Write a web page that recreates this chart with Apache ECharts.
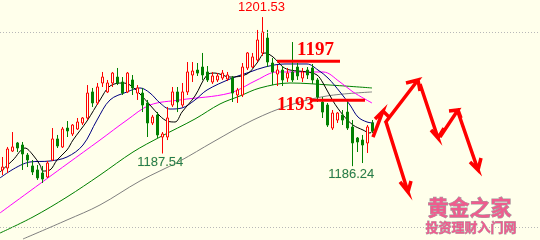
<!DOCTYPE html>
<html><head><meta charset="utf-8">
<script src="https://cdn.jsdelivr.net/npm/echarts/dist/echarts.min.js"></script>
<style>html,body{margin:0;padding:0;background:#ffffeb}#c{width:540px;height:240px}</style>
</head><body><div id="c"></div>
<script>
// candle values (index 0..74)
const opens = [1185.85,1186.05,1187.79,1188.62,1188.41,1187.38,1186.26,1185.85,1185.54,1185.13,
 1186.87,1189.03,1188.21,1190.15,1189.54,1190.05,1190.67,1191.18,1193.85,1192.72,
 1194.77,1193.85,1194.77,1195.38,1194.87,1193.85,1195.08,1193.74,1193.74,1192.72,
 1190.67,1191.49,1189.23,1189.23,1192.51,1193.85,1192.51,1193.85,1195.59,1196.10,
 1196.41,1195.90,1194.87,1195.08,1195.28,1195.18,1195.28,1193.54,1193.54,1196.31,
 1196.41,1197.13,1197.85,1199.38,1196.82,1195.69,1196.10,1195.28,1195.90,1196.41,
 1195.28,1196.10,1196.31,1195.08,1192.82,1192.51,1190.15,1190.97,1191.49,1191.79,
 1190.26,1189.13,1188.92,1188.62,1190.67];
const closes = [1186.15,1188.00,1188.21,1188.10,1187.49,1186.87,1185.64,1185.03,1184.92,1186.56,
 1189.03,1188.31,1190.05,1189.85,1190.46,1190.77,1191.18,1193.74,1192.72,1194.36,
 1195.38,1194.77,1195.79,1194.77,1193.74,1195.79,1194.26,1194.26,1192.51,1190.67,
 1191.28,1189.44,1189.54,1191.18,1193.85,1192.82,1193.85,1195.90,1196.00,1195.79,
 1195.59,1195.08,1195.49,1195.49,1195.79,1195.59,1193.74,1194.05,1196.41,1197.85,
 1197.44,1199.18,1200.00,1196.92,1195.90,1196.10,1195.08,1195.79,1195.08,1195.49,
 1195.90,1195.59,1195.08,1193.33,1191.79,1190.46,1191.69,1191.69,1190.97,1190.15,
 1188.62,1188.72,1188.41,1190.26,1189.85];
const lows = [1185.33,1185.54,1187.69,1187.69,1185.85,1186.15,1185.33,1184.82,1184.51,1185.03,
 1186.77,1188.10,1188.10,1189.23,1189.33,1189.95,1190.46,1190.97,1192.31,1192.51,
 1194.36,1193.74,1194.36,1194.56,1193.54,1193.74,1193.54,1193.03,1191.79,1189.23,
 1190.46,1189.13,1187.54,1188.92,1192.31,1191.79,1192.31,1193.54,1194.87,1195.49,
 1195.08,1194.87,1194.67,1194.87,1195.08,1194.97,1192.82,1192.72,1193.33,1196.10,
 1196.31,1196.92,1197.54,1196.41,1194.56,1194.46,1194.46,1194.87,1194.87,1195.08,
 1194.87,1195.18,1194.67,1192.82,1191.18,1190.26,1189.95,1190.67,1190.46,1189.95,
 1186.24,1187.69,1186.56,1187.59,1189.64];
const highs = [1187.18,1188.21,1189.74,1188.72,1188.72,1187.59,1186.87,1186.36,1186.26,1186.77,
 1190.15,1189.44,1190.26,1190.87,1190.56,1191.18,1191.28,1194.56,1194.26,1194.77,
 1195.90,1195.08,1195.90,1196.31,1195.38,1195.90,1195.59,1194.56,1194.26,1193.03,
 1191.49,1191.79,1189.74,1192.31,1194.36,1194.36,1194.77,1196.92,1196.92,1196.82,
 1197.85,1196.51,1195.90,1195.79,1196.10,1195.90,1195.49,1194.26,1196.82,1197.95,
 1197.85,1200.21,1201.53,1200.21,1197.33,1196.62,1196.51,1196.31,1198.97,1196.82,
 1196.31,1196.41,1196.72,1195.28,1193.33,1192.72,1192.00,1191.79,1192.00,1192.82,
 1190.97,1189.23,1189.44,1190.46,1190.97];
const slotCount = 108; // category slots incl. empty future area

// moving average lines, [position, price]
const maBlack = [[-0.5,1185.64],[2.1,1186.87],[4.5,1188.10],[6.1,1187.38],[7.5,1186.36],[8.1,1185.74],[9.5,1185.85],[10.9,1186.87],[12.9,1187.90],[14.1,1188.92],[16.9,1190.87],[19.5,1193.03],[21.5,1194.46],[24.1,1194.77],[25.5,1194.56],[27.5,1193.64],[29.5,1192.51],[31.5,1191.38],[32.9,1190.87],[34.5,1190.77],[35.9,1191.79],[38.5,1193.44],[40.9,1195.59],[42.5,1195.79],[45.5,1195.38],[48.9,1195.69],[50.9,1196.82],[52.5,1197.85],[54.1,1197.44],[56.1,1196.41],[57.5,1196.10],[60.9,1195.90],[62.9,1195.59],[64.1,1194.77],[66.1,1192.92],[68.1,1191.49],[70.1,1190.46],[72.1,1189.95],[73.5,1189.64],[74.1,1189.95]];
const maBlue = [[-0.5,1185.03],[5.5,1186.67],[9.5,1186.77],[12.9,1187.18],[16.1,1188.41],[18.9,1190.97],[21.5,1193.03],[24.9,1193.85],[27.5,1194.26],[29.5,1193.74],[31.5,1192.72],[33.5,1192.10],[35.9,1192.21],[38.5,1193.03],[40.9,1194.05],[45.5,1195.18],[49.5,1195.90],[52.5,1196.41],[56.5,1196.72],[60.9,1196.72],[63.1,1196.10],[65.1,1195.28],[67.5,1193.85],[69.5,1192.51],[71.1,1191.28],[72.9,1190.77],[74.3,1190.67]];
const maMagenta = [[-0.5,1181.44],[12.9,1186.46],[19.5,1188.92],[24.9,1190.97],[29.5,1192.51],[35.5,1193.03],[45.5,1193.74],[50.9,1195.08],[54.9,1195.90],[64.1,1195.90],[67.5,1194.87],[70.1,1193.85],[73.9,1192.72]];
const maGreen = [[-0.5,1179.38],[6.1,1181.03],[12.9,1183.08],[19.5,1185.33],[26.1,1187.69],[31.5,1189.23],[38.5,1191.08],[43.5,1192.62],[47.5,1193.44],[51.5,1194.26],[57.5,1194.77],[65.5,1194.56],[73.9,1194.26]];
const maGray = [[4.1,1178.77],[12.9,1180.72],[19.5,1182.26],[27.5,1184.72],[35.5,1186.77],[42.1,1188.72],[50.1,1190.97],[57.5,1192.51],[64.9,1193.44],[73.9,1193.85]];

// drawn levels and forecast arrows (start, tip, barb, tip, barb)
const levels = [{price:1197, from:54.9, to:67.5}, {price:1193, from:61.9, to:72.5}];
const arrows = [
 [[74.1,1189.23],[76.1,1191.90],[74.5,1191.08],[76.1,1191.90],[77.3,1191.28]],
 [[76.5,1190.67],[83.1,1195.08],[80.7,1194.77],[83.1,1195.08],[83.5,1193.95]],
 [[83.5,1194.67],[87.1,1189.13],[85.7,1189.95],[87.1,1189.13],[88.3,1190.15]],
 [[87.5,1189.23],[91.1,1192.00],[89.3,1191.90],[91.1,1192.00],[91.7,1191.18]],
 [[91.1,1191.79],[95.1,1185.85],[93.5,1186.67],[95.1,1185.85],[95.7,1187.08]],
 [[76.7,1190.77],[81.1,1183.59],[79.5,1184.62],[81.1,1183.59],[81.7,1184.72]]
];
const gridLevels = [1200, 1180];

const categories = [];
for (let i = 0; i < slotCount; i++) categories.push(String(i));
const candles = opens.map((o, i) => [o, closes[i], lows[i], highs[i]]);

const chart = echarts.init(document.getElementById('c'), null, {renderer: 'canvas'});
function ma(data, color) {
  return {type:'line', xAxisIndex:1, yAxisIndex:0, data, smooth:0.35, symbol:'none',
    lineStyle:{color, width:1}, silent:true, z:3};
}
const series = [
  {type:'line', xAxisIndex:1, data:[], symbol:'none',
   markLine:{silent:true, symbol:'none', label:{show:false},
     lineStyle:{color:'#b8b8b8', type:[1,2], width:1},
     data: gridLevels.map(v => ({yAxis:v}))}},
  ma(maGray, '#808080'),
  ma(maGreen, '#008000'),
  ma(maMagenta, '#ff00ff'),
  ma(maBlue, '#000080'),
  ma(maBlack, '#000000'),
  {type:'candlestick', xAxisIndex:0, yAxisIndex:0, data:candles, barWidth:3, z:4,
   itemStyle:{color:'#ffffeb', color0:'#008000', borderColor:'#ff0000', borderColor0:'#008000', borderWidth:1}}
];
levels.forEach(l => series.push({type:'line', xAxisIndex:1, data:[[l.from,l.price],[l.to,l.price]],
  symbol:'none', lineStyle:{color:'#ff0000', width:3}, z:6}));
arrows.forEach(a => series.push({type:'line', xAxisIndex:1, data:a, symbol:'none',
  lineStyle:{color:'#ff0000', width:3.5, join:'miter'}, z:7}));

chart.setOption({
  animation:false,
  backgroundColor:'#ffffeb',
  grid:{left:0, right:0, top:0, bottom:0},
  xAxis:[
    {type:'category', data:categories, show:false, boundaryGap:true},
    {type:'value', min:-0.5, max:slotCount-0.5, show:false}
  ],
  yAxis:{type:'value', min:1178.667, max:1203.282, show:false, splitLine:{show:false}},
  series,
  graphic:[
    {type:'text', left:238, top:1, z:10, style:{text:'1201.53', font:'13px "Liberation Sans", Arial', fill:'#ff0000'}},
    {type:'text', left:137, top:156, z:10, style:{text:'1187.54', font:'13px "Liberation Sans", Arial', fill:'#237a52', stroke:'#f4f4b0', lineWidth:0.5}},
    {type:'text', left:328, top:168, z:10, style:{text:'1186.24', font:'13px "Liberation Sans", Arial', fill:'#237a52', stroke:'#f4f4b0', lineWidth:0.5}},
    {type:'text', left:297, top:41, z:10, style:{text:'1197', font:'bold 19px "Liberation Serif", serif', fill:'#ff0000'}},
    {type:'text', left:277, top:96, z:10, style:{text:'1193', font:'bold 19px "Liberation Serif", serif', fill:'#ff0000'}},
    {type:'text', left:427, top:196, z:10, style:{text:'黄金之家', font:'bold 21px "Noto Sans CJK SC"', fill:'#ee5c8e', stroke:'#a0a0a0', lineWidth:1}},
    {type:'text', left:425, top:220, z:10, style:{text:'投资理财入门网', font:'bold 13px "Noto Sans CJK SC"', fill:'#ee5c8e', stroke:'#a8a8a8', lineWidth:0.8}}
  ]
});
</script>
</body></html>
